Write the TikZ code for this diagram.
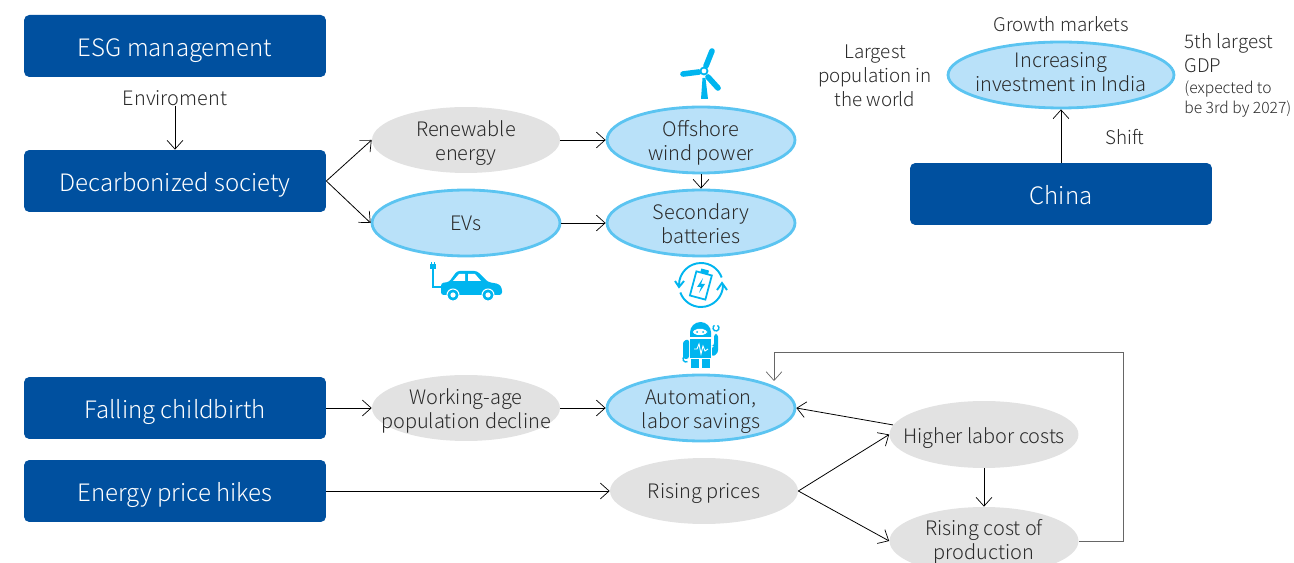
\documentclass[tikz,border=0pt]{standalone}
\usepackage{fontspec}
\setmainfont{Noto Sans CJK JP Light}
\usetikzlibrary{arrows.meta, shapes.geometric}
\definecolor{boxblue}{HTML}{00509F}
\definecolor{paleblue}{HTML}{B9E1F9}
\definecolor{ringblue}{HTML}{5BC4F1}
\definecolor{palegray}{HTML}{E2E2E2}
\definecolor{icon}{HTML}{00B5EF}
\definecolor{ink}{HTML}{2B2B2B}
\tikzset{
  link/.style={-{Straight Barb[length=5pt,width=9pt,line width=0.4pt]}, line width=0.45pt, black},
  box/.style={draw=none, fill=boxblue, rounded corners=3pt, minimum width=6.04cm, minimum height=1.24cm,
    text=white, text height=0.43cm, text depth=0pt, font=\fontsize{13.65}{17}\selectfont},
  oval/.style={ellipse, inner xsep=-1cm, inner ysep=-0.3cm, minimum width=3.76cm, minimum height=1.32cm, align=center, text=ink,
    text height=0.32cm, text depth=0pt, font=\fontsize{11.35}{13.7}\selectfont},
  twoline/.style={text height=0.82cm},
  hot/.style={oval, draw=ringblue, line width=1.6pt, fill=paleblue},
  cold/.style={oval, fill=palegray},
  note/.style={align=center, text=ink, inner sep=0pt, font=\fontsize{10.7}{13.7}\selectfont},
  small/.style={align=left, text=ink, inner sep=0pt, font=\fontsize{8.9}{11.8}\selectfont}
}
\begin{document}
\begin{tikzpicture}[x=0.02cm, y=-0.02cm]
      \clip (0,0) rectangle (1294,563);

      % Draw the blue boxes
      \node[box] (esg) at (175,46) {ESG management};
      \node[box] (decarb) at (175,181) {Decarbonized society};
      \node[box] (falling) at (175,408) {Falling childbirth};
      \node[box] (energy) at (175,491) {Energy price hikes};
      \node[box] (china) at (1061,194) {China};

      % Draw the ovals
      \node[cold, twoline] (renew) at (466,140) {Renewable\\energy};
      \node[hot, twoline] (offshore) at (701,140) {Offshore\\wind power};
      \node[hot] (evs) at (466,223) {EVs};
      \node[hot, twoline] (second) at (701,223) {Secondary\\batteries};
      \node[cold, twoline] (working) at (466,408) {Working-age\\population decline};
      \node[hot, twoline] (auto) at (701,408) {Automation,\\labor savings};
      \node[cold] (prices) at (704,491) {Rising prices};
      \node[cold, minimum width=3.78cm, minimum height=1.34cm, text height=0.38cm] (labor) at (984,434.5) {Higher labor costs};
      \node[cold, twoline, minimum width=3.78cm, minimum height=1.36cm, text height=0.76cm] (cost) at (984,541) {Rising cost of\\production};
      \node[hot, minimum width=4.52cm, text height=0.68cm] (india) at (1061,75) {Increasing\\investment in India};

      % Add the free labels
      \node[note, font=\fontsize{11.3}{13.7}\selectfont] (env) at (175,98) {Enviroment};
      \node[note] (growth) at (1061,24) {Growth markets};
      \node[note] (largest) at (875,76) {Largest\\population in\\the world};
      \node[note] (shift) at (1125,137) {Shift};
      \node[note, align=left, anchor=north west] (gdp) at (1184,33) {5th largest\\GDP};
      \node[small, anchor=north west] (expected) at (1184,80) {(expected to\\be 3rd by 2027)};

      % Draw the connectors
      \draw[link] (env) -- (decarb);
      \draw[link] (decarb.east) -- (renew.west);
      \draw[link] (decarb.east) -- (evs.west);
      \draw[link] (renew) -- (offshore);
      \draw[link] (evs) -- (second);
      \draw[link] (offshore) -- (second);
      \draw[link] (falling) -- (working);
      \draw[link] (working) -- (auto);
      \draw[link] (energy.east) -- (prices.west);
      \draw[link] (prices.east) -- (labor.west);
      \draw[link] (prices.east) -- (cost.west);
      \draw[link] (labor.174) -- (auto.east);
      \draw[link] (labor) -- (cost);
      \draw[link] (china.north) -- (india.south);

      % Add the loop back to the automation oval
      \coordinate (loopa) at (1123,352);
      \coordinate (loopb) at (774,381);
      \draw[link, draw=black!60] (cost.east) -| (loopa) -| (loopb);

      % Wind turbine
      \fill[icon] (701,99) -- (702.5,78) -- (705.5,78) -- (708,99) -- cycle;
      \draw[icon, line width=3.2pt, line cap=round] (706,66) -- (712,51);
      \draw[icon, line width=3.2pt, line cap=round] (699,72) -- (683,74);
      \draw[icon, line width=3.2pt, line cap=round] (708,77) -- (718,88);
      \draw[icon, fill=white, line width=1pt] (704,71) circle (3.5);

      % Car with its cable
      \fill[icon, rounded corners=1.5pt] (441,295) -- (441,283) -- (449,282) -- (457,271) -- (477,271) -- (488,282) -- (499,284) -- (502,288) -- (502,295) -- cycle;
      \fill[white] (453,281) -- (459,274) -- (465,274) -- (465,281) -- cycle;
      \fill[white] (468,281) -- (468,274) -- (475,274) -- (481,281) -- cycle;
      \draw[white, fill=icon, line width=0.6pt] (453,295) circle (6);
      \draw[white, fill=icon, line width=0.6pt] (488,295) circle (6);
      \fill[white] (453,295) circle (2.6);
      \fill[white] (488,295) circle (2.6);
      \draw[icon, line width=0.8pt] (441,287) -- (433,287) -- (433,268);
      \fill[icon] (430,264) rectangle (436,269);
      \fill[icon] (431,262) rectangle (432,264);
      \fill[icon] (434,262) rectangle (435,264);

      % Battery with its cycle arrows
      \draw[icon, line width=1.1pt] (679,285) arc (180:340:22);
      \draw[icon, line width=1.1pt] (723,285) arc (0:160:22);
      \draw[icon, line width=1.1pt] (675,281) -- (679,287) -- (684,281);
      \draw[icon, line width=1.1pt] (717,290) -- (722,283) -- (727,290);
      \begin{scope}[rotate around={-15:(701,285)}]
        \draw[icon, line width=1pt, fill=white] (693,273) rectangle (709,298);
        \fill[icon] (697,269) rectangle (705,273);
      \end{scope}
      \fill[icon] (703,278) -- (697,287) -- (701,287) -- (699,293) -- (705,284) -- (701,284) -- cycle;

      % Robot
      \fill[icon] (690,337) -- (690,332.5) arc (180:360:10.5) -- (711,337) -- cycle;
      \fill[white, rounded corners=2.5pt] (693,329) rectangle (707,335);
      \fill[icon] (697,332) circle (1);
      \fill[icon] (703,332) circle (1);
      \fill[icon] (690,339) rectangle (711,358);
      \draw[white, line width=0.5pt] (694,349) -- (697,349) -- (699,344) -- (701,354) -- (703,346) -- (705,351) -- (708,349);
      \fill[icon] (691,359) rectangle (699,368);
      \fill[icon] (702,359) rectangle (710,368);
      \fill[icon, rounded corners=1.5pt] (683,341) -- (689,339) -- (689,359) -- (683,359) -- cycle;
      \fill[icon, rounded corners=1.5pt] (712,346) -- (714,346) -- (714,334) -- (718,334) -- (718,353) -- (712,357) -- cycle;
      \draw[icon, line width=0.8pt] (717.5,325.4) arc (-60:240:3);
      \draw[icon, line width=0.8pt] (687.5,361.6) arc (60:300:3);
\end{tikzpicture}
\end{document}
